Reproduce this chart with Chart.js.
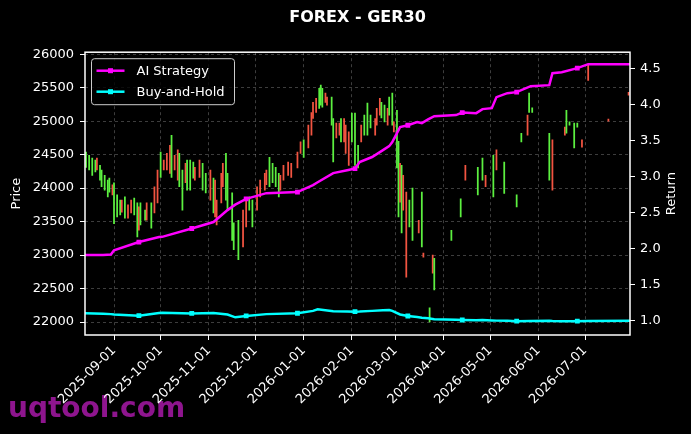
<!DOCTYPE html>
<html>
<head>
<meta charset="utf-8">
<script src="https://cdn.jsdelivr.net/npm/chart.js@4.4.1/dist/chart.umd.min.js"></script>
<style>
  html, body { margin: 0; padding: 0; background: #000; }
  #wrap { width: 691px; height: 434px; }
</style>
</head>
<body>
<div id="wrap"><canvas id="chart" width="691" height="434"></canvas></div>
<script>
// price bars (daily high / low, direction of the day)
const candleDates = [
  '2025-08-14','2025-08-16','2025-08-18','2025-08-20','2025-08-21','2025-08-23','2025-08-24','2025-08-26','2025-08-28','2025-08-29','2025-08-31',
  '2025-09-01','2025-09-03','2025-09-05','2025-09-06','2025-09-08','2025-09-10','2025-09-12','2025-09-14','2025-09-16','2025-09-17','2025-09-18','2025-09-21','2025-09-22','2025-09-25','2025-09-27','2025-09-29',
  '2025-10-01','2025-10-03','2025-10-05','2025-10-07','2025-10-08','2025-10-10','2025-10-12','2025-10-13','2025-10-15','2025-10-17','2025-10-18','2025-10-20','2025-10-22','2025-10-23','2025-10-26','2025-10-28','2025-10-30',
  '2025-11-02','2025-11-04','2025-11-05','2025-11-06','2025-11-09','2025-11-10','2025-11-12','2025-11-13','2025-11-16','2025-11-17','2025-11-20','2025-11-23','2025-11-25','2025-11-27','2025-11-29',
  '2025-12-02','2025-12-04','2025-12-07','2025-12-08','2025-12-10','2025-12-12','2025-12-14','2025-12-16','2025-12-17','2025-12-19','2025-12-22','2025-12-24','2025-12-28','2025-12-30',
  '2026-01-01','2026-01-04','2026-01-06','2026-01-07','2026-01-09','2026-01-11','2026-01-12','2026-01-13','2026-01-15','2026-01-16','2026-01-19','2026-01-20','2026-01-22','2026-01-24','2026-01-25','2026-01-27','2026-01-28','2026-01-30',
  '2026-02-01','2026-02-03','2026-02-05','2026-02-07','2026-02-09','2026-02-11','2026-02-13','2026-02-16','2026-02-17','2026-02-19','2026-02-20','2026-02-22','2026-02-24','2026-02-25','2026-02-27','2026-02-28',
  '2026-03-02','2026-03-03','2026-03-04','2026-03-05','2026-03-06','2026-03-08','2026-03-10','2026-03-12','2026-03-16','2026-03-18','2026-03-19','2026-03-23','2026-03-25','2026-03-26',
  '2026-04-06','2026-04-12','2026-04-15','2026-04-23','2026-04-26','2026-04-28',
  '2026-05-03','2026-05-05','2026-05-10','2026-05-18','2026-05-21','2026-05-25','2026-05-26','2026-05-28',
  '2026-06-08','2026-06-10','2026-06-18','2026-06-19','2026-06-21','2026-06-24','2026-06-26','2026-06-29',
  '2026-07-03','2026-07-16','2026-07-29'
];
const candleHigh = [
  24540,24490,24450,24420,24450,24340,24270,24190,24120,24150,24050,
  24080,23900,23820,23820,23870,23750,23820,23850,23780,23720,23780,23670,23780,23780,24020,24270,
  24540,24420,24520,24640,24790,24490,24570,24520,24270,24370,24420,24420,24390,24310,24420,24370,24220,
  24270,24150,24120,23820,24220,24370,24520,24220,23930,23480,23520,23670,23820,23870,23820,
  24020,24120,24220,24270,24460,24370,24310,24220,24190,24340,24390,24370,24540,24690,
  24720,24940,25130,25280,25340,25490,25540,25490,25420,25360,25360,25040,24970,24970,25040,25040,24940,24840,
  25120,25120,24640,24940,25090,25270,25090,25040,25190,25340,25280,25240,25190,25360,25420,24990,
  25160,24700,24370,24340,24190,23940,23820,24000,23520,23940,23030,22210,23000,22950,
  23370,23840,24340,24310,24450,24190,
  24490,24570,24390,23900,24820,25090,25420,25200,
  24820,24720,24910,25160,24990,24970,24970,24720,
  25840,25030,25430
];
const candleLow = [
  24310,24270,24190,24240,24270,24120,24020,23970,23870,23940,23900,
  23470,23570,23600,23640,23550,23550,23630,23600,23270,23370,23450,23520,23520,23400,23630,23780,
  24160,24270,24270,24220,24160,24270,24120,24020,23670,24080,23970,23970,24150,24120,24160,23970,23930,
  23820,23630,23570,23450,23780,24020,23820,23670,23220,23080,22930,23120,23420,23670,23420,
  23670,23870,23970,24050,24020,24080,24020,23870,23970,24120,24190,24160,24300,24520,
  24460,24600,24790,25040,25130,25190,25240,25210,25280,25240,24940,24390,24750,24790,24690,24690,24520,24340,
  24690,24340,24300,24690,24790,24790,24900,24790,24940,25090,25050,24990,24940,25090,24940,24840,
  24300,23570,23790,23330,23670,22670,23420,23220,23330,23120,22970,22000,22730,22480,
  23220,23570,24120,23900,24120,24020,
  23870,24270,23920,23720,24690,24790,25130,25130,
  24120,23970,24790,24820,24940,24600,24910,24610,
  25610,25000,25390
];
const candleDir = [
  'u','u','u','u','d','u','u','u','u','u','d',
  'u','u','u','d','u','d','d','u','u','d','u','u','d','u','d','d',
  'u','d','d','d','u','d','d','u','u','d','u','u','u','d','d','u','u',
  'd','u','d','d','d','d','u','u','u','u','u','d','d','u','u',
  'd','d','d','d','u','u','u','u','d','d','d','d','d','d',
  'u','d','d','d','d','u','u','u','d','d','u','u','d','d','u','d','d','d',
  'u','u','u','d','u','u','u','d','d','d','u','u','d','u','u','d',
  'u','u','d','u','d','d','u','u','d','u','d','u','d','u',
  'u','u','d','u','u','d',
  'u','d','u','u','u','d','u','u',
  'u','d','d','u','u','u','u','d',
  'd','d','d'
];

// cumulative returns
const lineDates = [
  '2025-08-13','2025-08-25','2025-08-30','2025-09-01','2025-09-17','2025-09-30','2025-10-02','2025-10-21',
  '2025-11-04','2025-11-13','2025-11-18','2025-11-25','2025-12-08','2025-12-28','2026-01-07','2026-01-10',
  '2026-01-20','2026-01-29','2026-02-03','2026-02-06','2026-02-14','2026-02-21','2026-02-25','2026-02-27',
  '2026-03-04','2026-03-09','2026-03-15','2026-03-18','2026-03-22','2026-03-26','2026-04-09','2026-04-13',
  '2026-04-22','2026-04-26','2026-05-02','2026-05-05','2026-05-12','2026-05-18','2026-05-27','2026-06-08',
  '2026-06-10','2026-06-16','2026-06-26','2026-07-03','2026-07-30'
];
const aiReturn = [
  1.913,1.913,1.92,1.98,2.093,2.162,2.165,2.28,
  2.37,2.535,2.61,2.69,2.77,2.785,2.88,2.92,
  3.047,3.088,3.11,3.20,3.27,3.365,3.42,3.476,
  3.684,3.71,3.753,3.74,3.79,3.836,3.85,3.885,
  3.877,3.933,3.946,4.099,4.154,4.168,4.251,4.265,
  4.43,4.444,4.50,4.555,4.555
];
const bhReturn = [
  1.107,1.10,1.095,1.09,1.073,1.11,1.115,1.105,
  1.112,1.09,1.051,1.07,1.095,1.107,1.14,1.162,
  1.135,1.13,1.129,1.13,1.14,1.148,1.152,1.14,
  1.09,1.069,1.055,1.045,1.037,1.024,1.017,1.014,
  1.01,1.012,1.008,1.005,1.003,0.998,1.0,1.002,
  1.0,0.998,0.998,1.0,1.004
];
const markerDates = ['2025-09-17','2025-10-21','2025-11-25','2025-12-28','2026-02-03','2026-03-09','2026-04-13','2026-05-18','2026-06-26'];

// axis ticks
const monthTicks = ['2025-09-01','2025-10-01','2025-11-01','2025-12-01','2026-01-01','2026-02-01','2026-03-01','2026-04-01','2026-05-01','2026-06-01','2026-07-01'];
const priceTicks = [22000,22500,23000,23500,24000,24500,25000,25500,26000];
const returnTicks = [1.0,1.5,2.0,2.5,3.0,3.5,4.0,4.5];

const FONT = '"DejaVu Sans", sans-serif';
const dayNum = s => Date.UTC(+s.slice(0, 4), +s.slice(5, 7) - 1, +s.slice(8, 10)) / 86400000;
const sep1 = dayNum('2025-09-01');
const tickLabel = {};
monthTicks.forEach(s => { tickLabel[dayNum(s)] = s; });

const candles = candleDates.map((d, i) => ({ x: dayNum(d), y: [candleLow[i], candleHigh[i]] }));
const aiPts = lineDates.map((d, i) => ({ x: dayNum(d), y: aiReturn[i] }));
const bhPts = lineDates.map((d, i) => ({ x: dayNum(d), y: bhReturn[i] }));
const markerSize = c => markerDates.includes(lineDates[c.dataIndex]) ? 3.4 : 0;

const background = {
  id: 'background',
  beforeDraw(chart) {
    const ctx = chart.ctx;
    ctx.save();
    ctx.fillStyle = '#000';
    ctx.fillRect(0, 0, chart.width, chart.height);
    ctx.fillStyle = '#8e158e';
    ctx.font = 'bold 28px ' + FONT;
    ctx.textBaseline = 'alphabetic';
    ctx.fillText('uqtool.com', 8, 417);
    ctx.restore();
  }
};

const frameAndLegend = {
  id: 'frameAndLegend',
  afterDraw(chart) {
    const ctx = chart.ctx;
    const { left, top, right, bottom } = chart.chartArea;
    ctx.save();
    ctx.strokeStyle = '#fff';
    ctx.lineWidth = 1.5;
    ctx.strokeRect(left, top, right - left, bottom - top);

    // right axis title, reading bottom to top
    ctx.save();
    ctx.translate(672, (top + bottom) / 2);
    ctx.rotate(-Math.PI / 2);
    ctx.fillStyle = '#fff';
    ctx.font = '13px ' + FONT;
    ctx.textAlign = 'center';
    ctx.textBaseline = 'middle';
    ctx.fillText('Return', 0, 0);
    ctx.restore();

    // legend box in the upper left corner
    const x = left + 6.5, y = top + 6.5, w = 143, h = 46;
    ctx.beginPath();
    ctx.roundRect(x, y, w, h, 3);
    ctx.fillStyle = 'rgba(0,0,0,0.8)';
    ctx.fill();
    ctx.strokeStyle = '#cccccc';
    ctx.lineWidth = 1;
    ctx.stroke();
    chart.data.datasets.filter(ds => ds.type === 'line').forEach((ds, i) => {
      const ly = y + 12 + i * 21;
      ctx.strokeStyle = ds.borderColor;
      ctx.lineWidth = 2.5;
      ctx.beginPath();
      ctx.moveTo(x + 5, ly);
      ctx.lineTo(x + 33, ly);
      ctx.stroke();
      ctx.fillStyle = ds.borderColor;
      ctx.fillRect(x + 19 - 2.5, ly - 2.5, 5, 5);
      ctx.fillStyle = '#fff';
      ctx.font = '13px ' + FONT;
      ctx.textBaseline = 'middle';
      ctx.fillText(ds.label, x + 45, ly + 1);
    });
    ctx.restore();
  }
};

const gridDash = { display: false, dash: [3, 3] };
const gridStyle = {
  color: 'rgba(255,255,255,0.3)', lineWidth: 0.8,
  tickColor: '#fff', tickLength: 5, tickWidth: 1
};

new Chart(document.getElementById('chart'), {
  type: 'line',
  data: {
    datasets: [
      {
        type: 'line', label: 'AI Strategy', data: aiPts, yAxisID: 'y2', order: 0,
        borderColor: '#ff00ff', backgroundColor: '#ff00ff', borderWidth: 2.5,
        pointStyle: 'rect', pointRadius: markerSize, pointBorderWidth: 0, tension: 0
      },
      {
        type: 'line', label: 'Buy-and-Hold', data: bhPts, yAxisID: 'y2', order: 0,
        borderColor: '#00ffff', backgroundColor: '#00ffff', borderWidth: 2.5,
        pointStyle: 'rect', pointRadius: markerSize, pointBorderWidth: 0, tension: 0
      },
      {
        type: 'bar', label: 'GER30', data: candles, yAxisID: 'y', order: 1,
        backgroundColor: candleDir.map(d => d === 'u' ? '#5cf040' : '#f25441'),
        borderWidth: 0, barThickness: 1.1, grouped: false
      }
    ]
  },
  options: {
    responsive: false,
    animation: false,
    events: [],
    layout: { padding: 0 },
    plugins: {
      legend: { display: false },
      tooltip: { enabled: false },
      title: {
        display: true, text: 'FOREX - GER30', color: '#fff', fullSize: false,
        font: { family: FONT, size: 16, weight: 'bold' },
        padding: { top: 8, bottom: 25 }
      }
    },
    scales: {
      x: {
        type: 'linear', offset: false,
        min: sep1 - 18.66, max: sep1 + 331.9,
        afterBuildTicks: s => { s.ticks = monthTicks.map(m => ({ value: dayNum(m) })); },
        afterFit: s => { s.height = 99; },
        ticks: {
          autoSkip: false, maxRotation: 45, minRotation: 45, padding: 3,
          color: '#fff', font: { family: FONT, size: 13 },
          callback: v => tickLabel[v] || ''
        },
        grid: Object.assign({ offset: false }, gridStyle),
        border: gridDash
      },
      y: {
        position: 'left', min: 21806, max: 26030,
        afterBuildTicks: s => { s.ticks = priceTicks.map(v => ({ value: v })); },
        afterFit: s => { s.width = 85; },
        ticks: { color: '#fff', padding: 6, font: { family: FONT, size: 13 }, callback: v => String(v) },
        grid: gridStyle,
        border: gridDash,
        title: { display: true, text: 'Price', color: '#fff', font: { family: FONT, size: 13 }, padding: { top: 9, bottom: 0 } }
      },
      y2: {
        position: 'right', min: 0.806, max: 4.721,
        afterBuildTicks: s => { s.ticks = returnTicks.map(v => ({ value: v })); },
        afterFit: s => { s.width = 61; },
        ticks: { color: '#fff', padding: 5, font: { family: FONT, size: 13 }, callback: v => v.toFixed(1) },
        grid: Object.assign({}, gridStyle, { drawOnChartArea: false }),
        border: { display: false }
      }
    }
  },
  plugins: [background, frameAndLegend]
});
</script>
</body>
</html>
